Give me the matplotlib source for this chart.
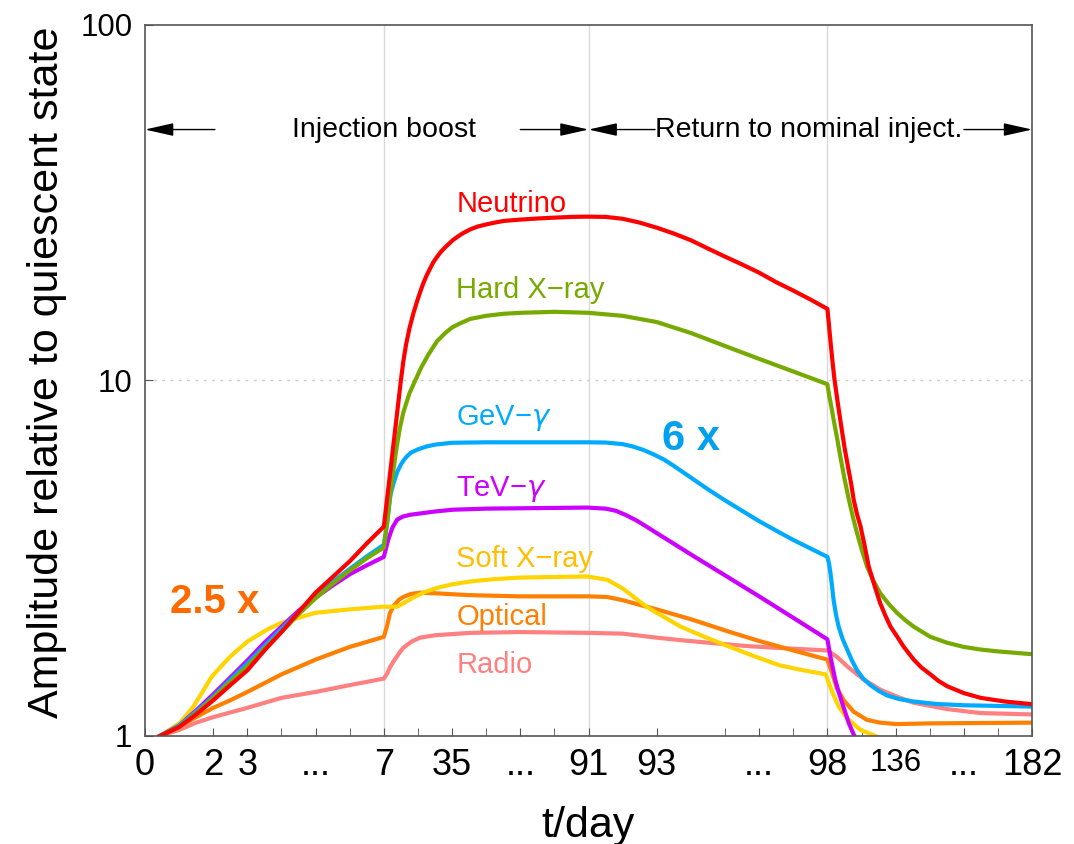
import matplotlib
matplotlib.use("Agg")
import matplotlib.pyplot as plt

plt.rcParams['font.family'] = ['Liberation Sans', 'DejaVu Sans']

# %% data: compressed time axis (0..26) -> amplitude relative to quiescent state
neutrino_t = [0.44, 1, 1.5, 2, 2.5, 3, 3.5, 4, 4.5, 5, 5.5, 6, 6.5, 7,
              7.1, 7.2, 7.3, 7.4, 7.5, 7.57, 7.65, 7.75, 7.87, 8.0, 8.08, 8.16, 8.25, 8.35, 8.45,
              8.55, 8.67, 8.8, 8.92, 9.04, 9.17, 9.3, 9.53, 9.75, 10.02, 10.25, 10.51, 11.0, 11.5,
              11.97, 12.5, 12.95,
              13.5, 14, 14.5, 15, 15.5, 16, 16.5, 17, 17.5, 18, 18.5, 19, 19.5, 20,
              20.05, 20.1, 20.15, 20.2, 20.3, 20.4, 20.5, 20.6, 20.7, 20.77, 20.87, 20.97, 21.1,
              21.21, 21.38, 21.55, 21.7, 21.85, 22.05, 22.24, 22.53, 22.75, 23.02, 23.25, 23.51,
              24.0, 24.49, 25.2, 25.95]
neutrino_amp = [1.0, 1.06, 1.15, 1.26, 1.39, 1.53, 1.74, 1.96, 2.23, 2.53, 2.8, 3.1, 3.48, 3.88,
                4.69, 5.66, 6.84, 8.27, 10.0, 11.3, 12.6, 14.0, 15.5, 17.0, 17.9, 18.8, 19.7, 20.6, 21.5,
                22.2, 23.0, 23.7, 24.3, 24.9, 25.4, 25.9, 26.6, 27.1, 27.5, 27.8, 28.1, 28.35, 28.55,
                28.7, 28.85, 28.9,
                28.85, 28.5, 27.8, 26.9, 25.9, 24.8, 23.5, 22.3, 21.2, 20.1, 18.9, 17.9, 16.9, 15.9,
                14.2, 12.6, 11.3, 10.2, 8.7, 7.5, 6.5, 5.75, 5.1, 4.62, 4.2, 3.89, 3.4,
                3.0, 2.65, 2.36, 2.18, 2.03, 1.9, 1.78, 1.64, 1.56, 1.49, 1.43, 1.38,
                1.32, 1.28, 1.25, 1.23]

hardx_t = [0.44, 1, 1.5, 2, 2.5, 3, 3.5, 4, 4.5, 5, 5.5, 6, 6.5, 7,
           7.1, 7.18, 7.28, 7.38, 7.47, 7.57, 7.75, 7.92, 8.1, 8.3, 8.56, 8.8, 9.0, 9.25, 9.53,
           10, 10.5, 11, 12, 13,
           14, 15, 16, 17, 18, 19, 20,
           20.05, 20.1, 20.2, 20.3, 20.38, 20.5, 20.63, 20.75, 20.87, 21.0, 21.16, 21.35, 21.55,
           21.8, 22.04, 22.3, 22.53, 23.02, 23.5, 24.0, 24.5, 24.98, 25.95]
hardx_amp = [1.0, 1.06, 1.16, 1.28, 1.42, 1.57, 1.76, 1.96, 2.2, 2.44, 2.68, 2.92, 3.16, 3.39,
             4.0, 4.72, 5.6, 6.53, 7.35, 8.12, 9.2, 10.0, 10.9, 11.8, 12.9, 13.6, 14.1, 14.5, 14.9,
             15.2, 15.4, 15.5, 15.6, 15.5,
             15.2, 14.6, 13.6, 12.5, 11.5, 10.6, 9.76,
             9.1, 8.6, 7.6, 6.75, 6.1, 5.3, 4.62, 4.12, 3.72, 3.36, 3.0, 2.73, 2.52,
             2.35, 2.22, 2.11, 2.03, 1.9, 1.83, 1.78, 1.75, 1.73, 1.70]

gev_t = [0.44, 1, 1.5, 2, 2.5, 3, 3.5, 4, 4.5, 5, 5.5, 6, 6.5, 7,
         7.05, 7.1, 7.15, 7.2, 7.3, 7.4, 7.5, 7.6, 7.7, 7.8, 8.0, 8.25, 8.5, 9.0, 10, 13,
         13.5, 14, 14.3, 14.6, 14.9, 15.2, 15.5, 16, 16.5, 17, 17.5, 18, 18.5, 19, 19.5, 20,
         20.05, 20.09, 20.14, 20.18, 20.25, 20.33, 20.45, 20.58, 20.72, 20.87, 21.05, 21.26,
         21.5, 21.75, 22.1, 22.53, 23.2, 24.0, 25.95]
gev_amp = [1.0, 1.07, 1.17, 1.29, 1.44, 1.6, 1.79, 2.0, 2.23, 2.47, 2.71, 2.95, 3.2, 3.45,
           3.7, 4.0, 4.4, 4.8, 5.2, 5.55, 5.8, 6.0, 6.15, 6.27, 6.4, 6.52, 6.6, 6.68, 6.7, 6.7,
           6.69, 6.62, 6.52, 6.38, 6.2, 6.0, 5.75, 5.33, 4.94, 4.6, 4.3, 4.02, 3.78, 3.56, 3.37, 3.19,
           3.05, 2.87, 2.62, 2.42, 2.2, 2.03, 1.87, 1.75, 1.63, 1.53, 1.45, 1.39,
           1.34, 1.30, 1.27, 1.25, 1.23, 1.22, 1.21]

tev_t = [0.44, 1, 1.5, 2, 2.5, 3, 3.5, 4, 4.5, 5, 5.5, 6, 6.5, 7,
         7.13, 7.25, 7.39, 7.55, 7.77, 8.5, 9.03, 10, 12.96,
         13.5, 13.8, 14.1, 14.4, 14.7, 15.0, 15.3, 16, 17, 18, 19, 20,
         20.09, 20.16, 20.23, 20.33, 20.43, 20.53, 20.63, 20.79, 21.0]
tev_amp = [1.0, 1.07, 1.18, 1.31, 1.46, 1.63, 1.83, 2.03, 2.25, 2.45, 2.65, 2.85, 3.02, 3.19,
           3.57, 3.85, 4.06, 4.14, 4.19, 4.28, 4.33, 4.36, 4.39,
           4.36, 4.3, 4.18, 4.04, 3.88, 3.72, 3.57, 3.24, 2.83, 2.47, 2.15, 1.87,
           1.67, 1.55, 1.44, 1.33, 1.24, 1.16, 1.085, 1.0, 0.93]

softx_t = [0.44, 1.03, 1.42, 1.96, 2.49, 2.99, 3.57, 3.99, 4.99, 5.98, 6.97,
           7.39, 7.6, 7.86, 8.2, 8.56, 9.0, 9.53, 10.2, 11.0, 12.96,
           13.55, 14.0, 14.7, 15.0, 15.7, 16.4, 17.15, 17.9, 18.6, 19.3, 19.95,
           20.14, 20.33, 20.58, 20.97, 21.41, 21.7]
softx_amp = [1.0, 1.09, 1.21, 1.47, 1.67, 1.84, 1.99, 2.08, 2.22, 2.27, 2.31,
             2.31, 2.37, 2.45, 2.54, 2.61, 2.67, 2.72, 2.76, 2.79, 2.81,
             2.75, 2.6, 2.31, 2.22, 2.03, 1.9, 1.78, 1.67, 1.58, 1.53, 1.49,
             1.33, 1.21, 1.12, 1.04, 1.0, 0.97]

optical_t = [0.44, 1, 1.5, 2, 2.5, 3, 4, 5, 6, 7,
             7.1, 7.18, 7.3, 7.45, 7.57, 7.8, 8.06, 8.5, 9.5, 11, 13,
             13.55, 14, 14.7, 15, 16, 17.15, 18, 19, 20,
             20.14, 20.28, 20.48, 20.77, 21.16, 21.55, 22.04, 23.02, 25.95]
optical_amp = [1.0, 1.06, 1.13, 1.2, 1.26, 1.33, 1.49, 1.64, 1.78, 1.9,
               2.05, 2.22, 2.33, 2.42, 2.46, 2.51, 2.53, 2.52, 2.49, 2.47, 2.47,
               2.46, 2.41, 2.31, 2.27, 2.13, 1.96, 1.85, 1.74, 1.64,
               1.5, 1.36, 1.26, 1.17, 1.11, 1.09, 1.08, 1.085, 1.09]

radio_t = [0.44, 1, 1.5, 2, 3, 4, 5, 6, 7,
           7.1, 7.18, 7.3, 7.45, 7.57, 7.8, 8.06, 8.5, 9.53, 11, 13,
           14, 15, 15.7, 16.5, 17.65, 18.5, 20,
           20.28, 20.58, 21.07, 21.55, 22.04, 22.53, 23.51, 24.49, 25.95]
radio_amp = [1.0, 1.04, 1.09, 1.13, 1.2, 1.28, 1.33, 1.39, 1.45,
             1.5, 1.56, 1.63, 1.71, 1.77, 1.84, 1.89, 1.92, 1.95, 1.96, 1.95,
             1.94, 1.89, 1.86, 1.83, 1.79, 1.77, 1.74,
             1.67, 1.57, 1.44, 1.35, 1.29, 1.24, 1.19, 1.16, 1.15]

# tick positions on the compressed axis and the day each one stands for
xtick_pos = [0, 2, 3, 5, 7, 9, 11, 13, 15, 18, 20, 22, 24, 26]
xtick_labels = ['0', '2', '3', '...', '7', '35', '...', '91', '93', '...', '98', '136', '...', '182']
xminor_pos = [4, 6, 8, 10, 12, 17, 19, 21, 23, 25]
phase_edges = [7, 13, 20]

series = [
    (radio_t, radio_amp, '#FF8080', 'Radio', 1.50, '#FF8080'),
    (optical_t, optical_amp, '#FF7F00', 'Optical', 2.05, '#FF7F00'),
    (softx_t, softx_amp, '#FFD400', 'Soft X\u2212ray', 2.98, '#FFBF00'),
    (tev_t, tev_amp, '#CC00FF', 'TeV\u2212$\\gamma$', 4.72, '#CC00FF'),
    (gev_t, gev_amp, '#00AAFF', 'GeV\u2212$\\gamma$', 7.51, '#00AAFF'),
    (hardx_t, hardx_amp, '#77AA00', 'Hard X\u2212ray', 17.1, '#77AA00'),
    (neutrino_t, neutrino_amp, '#FF0000', 'Neutrino', 29.7, '#FF0000'),
]

# %% figure
fig = plt.figure(figsize=(10.74, 8.44), dpi=100)
ax = fig.add_axes([0.135, 0.128, 0.826, 0.8424])

for x in phase_edges:
    ax.axvline(x, color='#d9d9d9', lw=1.0, zorder=0)
ax.axhline(10, color='#cccccc', lw=1.0, ls=(0, (2, 4)), zorder=0)

for t, amp, col, name, ylab, tcol in series:
    ax.plot(t, amp, color=col, lw=3.0, solid_joinstyle='round')
    ax.text(9.12, ylab, name, color=tcol, fontsize=21, ha='left', va='baseline')

ax.text(0.73, 2.22, '2.5 x', color='#FF6A00', fontsize=29, fontweight='bold',
        ha='left', va='baseline')
ax.text(15.15, 6.39, '6 x', color='#00A0F0', fontsize=30, fontweight='bold',
        ha='left', va='baseline')

# phase arrows
y_arr = 50.8
arr = dict(arrowstyle='-|>,head_length=0.8,head_width=0.18', color='black', lw=1.0,
           mutation_scale=22, shrinkA=0, shrinkB=0)
ax.annotate('', xy=(0, y_arr), xytext=(2.05, y_arr), arrowprops=arr)
ax.annotate('', xy=(13, y_arr), xytext=(11.0, y_arr), arrowprops=arr)
ax.text(7.0, y_arr, 'Injection boost', fontsize=20.5, ha='center', va='center')
ax.annotate('', xy=(13, y_arr), xytext=(14.95, y_arr), arrowprops=arr)
ax.annotate('', xy=(26, y_arr), xytext=(24.0, y_arr), arrowprops=arr)
ax.text(19.45, y_arr, 'Return to nominal inject.', fontsize=20.5, ha='center', va='center')

ax.set_yscale('log')
ax.set_xlim(0, 26)
ax.set_ylim(1, 100)
ax.set_yticks([1, 10, 100])
ax.set_yticklabels(['1', '10', '100'])
ax.yaxis.set_minor_locator(matplotlib.ticker.NullLocator())
ax.set_xticks(xtick_pos)
ax.set_xticklabels(xtick_labels)
ax.set_xticks(xminor_pos, minor=True)

ax.tick_params(axis='both', which='both', direction='in', color='#555555',
               top=False, right=False)
ax.tick_params(axis='x', which='major', length=6, pad=9, labelsize=26)
ax.tick_params(axis='x', which='minor', length=6)
ax.tick_params(axis='y', which='major', length=6, pad=9, labelsize=22.5)
for lab in ax.get_xticklabels():
    if lab.get_text() == '136':
        lab.set_fontsize(22.5)
for s in ax.spines.values():
    s.set_color('#555555')
    s.set_linewidth(1.2)

ax.set_xlabel('t/day', fontsize=31, labelpad=16)
ax.set_ylabel('Amplitude relative to quiescent state', fontsize=31)
ax.yaxis.set_label_coords(-0.088, 0.512)

fig.savefig('out.png', dpi=100)
